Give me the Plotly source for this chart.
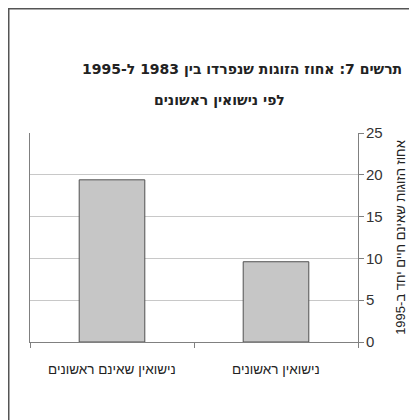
import plotly.graph_objects as go

categories = ["נישואין שאינם ראשונים", "נישואין ראשונים"]
values = [19.4, 9.6]
y_ticks = [0, 5, 10, 15, 20, 25]
title_line1 = "תרשים 7: אחוז הזוגות שנפרדו בין 1983 ל-1995"
title_line2 = "לפי נישואין ראשונים"
y_title = "אחוז הזוגות שאינם חיים יחד ב-1995"

# page has an 8px body margin, so the figure is drawn 8px lower/right
OFF = 8
W, H = 417 - OFF, 420 - OFF
L, R, T, B = 30 - OFF, 417 - 358, 133 - OFF, 420 - 342
pw, ph = W - L - R, H - T - B

def fx(px):
    return (px - OFF - L) / pw

def fy(py):
    return (H - B - (py - OFF)) / ph

fig = go.Figure()
fig.add_trace(go.Bar(
    x=categories, y=values,
    marker=dict(color="#c6c6c6", line=dict(color="#505050", width=1)),
    width=0.4,
))

cat_labels = [
    dict(text=c, x=c, xref="x", y=fy(369), yref="paper", showarrow=False,
         font=dict(size=13.5, color="#222"), xanchor="center", yanchor="middle")
    for c in categories
]

fig.update_layout(
    width=W, height=H,
    margin=dict(l=L, r=R, t=T, b=B),
    paper_bgcolor="white", plot_bgcolor="white",
    showlegend=False,
    font=dict(family="Liberation Sans, Arial, sans-serif", color="#222"),
    xaxis=dict(
        showline=True, linecolor="#808080", linewidth=1,
        ticks="outside", tickson="boundaries", ticklen=5, tickcolor="#808080",
        showticklabels=False,
        showgrid=False,
    ),
    yaxis=dict(
        side="right", range=[0, 25], tickvals=y_ticks,
        showline=True, linecolor="#808080", linewidth=1, mirror=True,
        ticks="outside", ticklen=5, tickcolor="#808080",
        tickfont=dict(size=15, color="#333"),
        ticklabelstandoff=-1,
        gridcolor="#c8c8c8", gridwidth=1,
        title=dict(text=y_title, font=dict(size=13, color="#222"), standoff=14),
    ),
    annotations=[
        dict(text="<b>" + title_line1 + "</b>", x=fx(242), y=fy(69), xref="paper", yref="paper",
             showarrow=False, font=dict(family="DejaVu Sans", size=14, color="#222"),
             xanchor="center", yanchor="middle"),
        dict(text="<b>" + title_line2 + "</b>", x=fx(219), y=fy(100), xref="paper", yref="paper",
             showarrow=False, font=dict(family="DejaVu Sans", size=14, color="#222"),
             xanchor="center", yanchor="middle"),
    ] + cat_labels,
    shapes=[
        dict(type="line", xref="paper", yref="paper", x0=fx(8), x1=fx(430), y0=fy(8.5), y1=fy(8.5),
             line=dict(color="#555", width=2)),
        dict(type="line", xref="paper", yref="paper", x0=fx(8.5), x1=fx(8.5), y0=fy(8), y1=fy(430),
             line=dict(color="#555", width=2)),
    ],
)

fig.write_html("out.html")
